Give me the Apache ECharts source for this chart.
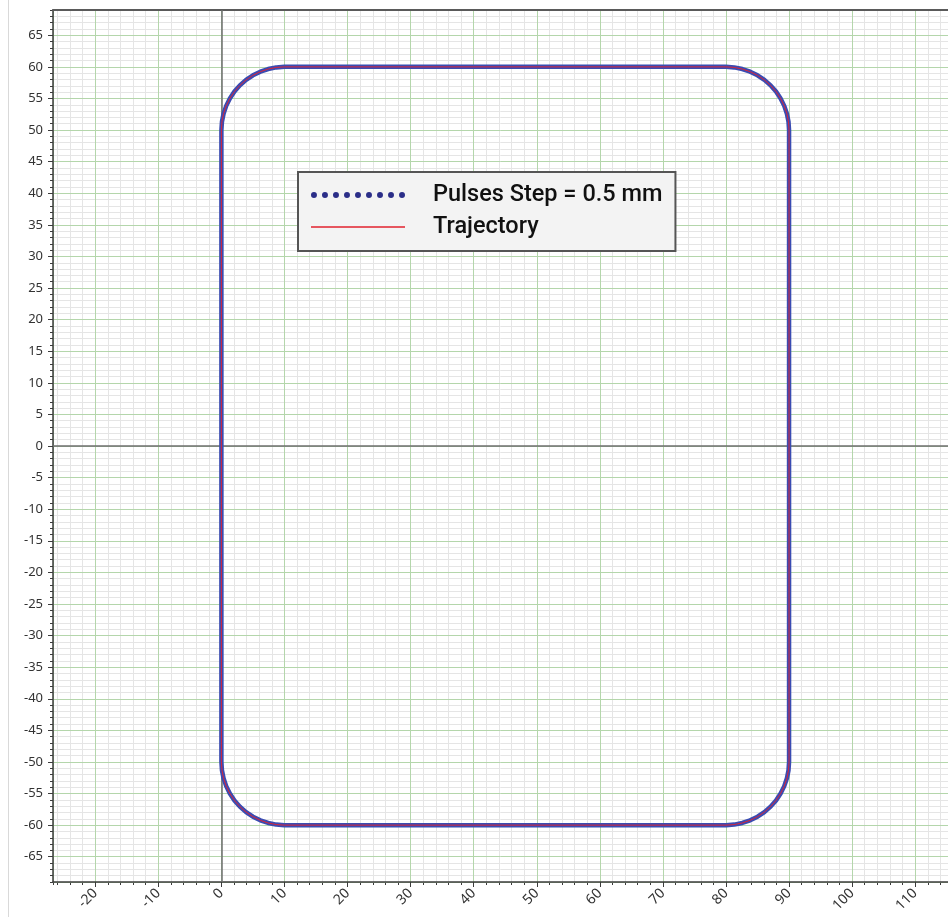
<!DOCTYPE html>
<html>
<head>
<meta charset="utf-8">
<script src="https://cdn.jsdelivr.net/npm/echarts@6/dist/echarts.min.js"></script>
<style>
  html, body { margin: 0; padding: 0; background: #ffffff; }
  #chart { position: absolute; left: 0; top: 0; width: 948px; height: 917px; }
  #edge { position: absolute; left: 8px; top: 0; width: 1px; height: 917px; background: #d9d9d9; }
</style>
</head>
<body>
<div id="chart"></div>
<div id="edge"></div>
<script>
// ---- data (mm) ----
// trajectory vertices: rounded rectangle 0..90 x -60..60, corner radius 10 (corner arcs sampled every 7.5 deg)
const trajX = [
  0, 0.086, 0.341, 0.761, 1.340, 2.066, 2.929, 3.912, 5, 6.173, 7.412, 8.695, 10,
  80, 81.305, 82.588, 83.827, 85, 86.088, 87.071, 87.934, 88.660, 89.239, 89.659, 89.914, 90,
  90, 89.914, 89.659, 89.239, 88.660, 87.934, 87.071, 86.088, 85, 83.827, 82.588, 81.305, 80,
  10, 8.695, 7.412, 6.173, 5, 3.912, 2.929, 2.066, 1.340, 0.761, 0.341, 0.086, 0,
  0
];
const trajY = [
  50, 51.305, 52.588, 53.827, 55, 56.088, 57.071, 57.934, 58.660, 59.239, 59.659, 59.914, 60,
  60, 59.914, 59.659, 59.239, 58.660, 57.934, 57.071, 56.088, 55, 53.827, 52.588, 51.305, 50,
  -50, -51.305, -52.588, -53.827, -55, -56.088, -57.071, -57.934, -58.660, -59.239, -59.659, -59.914, -60,
  -60, -59.914, -59.659, -59.239, -58.660, -57.934, -57.071, -56.088, -55, -53.827, -52.588, -51.305, -50,
  50
];
const seriesNames = ['Pulses Step = 0.5 mm', 'Trajectory'];
const xRange = [-26.7, 115.2];
const yRange = [-69, 69];
const xMajor = 10, xMinor = 2, yMajor = 5, yMinor = 1;

const path = trajX.map((x, i) => [x, trajY[i]]);

const labelFont = { fontFamily: 'Noto Sans', fontSize: 13, color: '#333333' };
const dotIcon = 'path://' + Array.from({length: 9}, (_, i) => {
  const cx = 3 + i * 11.1;
  return 'M' + (cx - 3) + ',3a3,3 0 1,0 6,0a3,3 0 1,0 -6,0Z';
}).join('');

const chart = echarts.init(document.getElementById('chart'), null, { renderer: 'canvas' });
chart.setOption({
  animation: false,
  backgroundColor: 'transparent',
  grid: { left: 53, top: 10, right: 0, bottom: 35, containLabel: false },
  xAxis: [
    { // minor (underneath)
      type: 'value', position: 'bottom', min: xRange[0], max: xRange[1],
      minInterval: xMinor, maxInterval: xMinor, splitNumber: 70, z: 1,
      axisLine: { show: false, onZero: false },
      axisTick: { show: true, inside: false, length: 3, lineStyle: { color: '#3c3c3c', width: 1 } },
      axisLabel: { show: false },
      splitLine: { show: true, lineStyle: { color: '#e5e5e5', width: 1 } }
    },
    { // major
      type: 'value', position: 'bottom', min: xRange[0], max: xRange[1],
      minInterval: xMajor, maxInterval: xMajor, splitNumber: 14, z: 3,
      axisLine: { show: true, onZero: false, lineStyle: { color: '#3c3c3c', width: 1.5 } },
      axisTick: { show: true, inside: false, length: 5, lineStyle: { color: '#3c3c3c', width: 1 } },
      axisLabel: Object.assign({ show: true, rotate: 45, margin: 9, showMinLabel: false, showMaxLabel: false }, labelFont, { fontSize: 14 }),
      splitLine: { show: true, lineStyle: { color: '#b4d6ab', width: 1 } }
    },
    { // top frame
      type: 'value', position: 'top', min: xRange[0], max: xRange[1], z: 3,
      axisLine: { show: true, onZero: false, lineStyle: { color: '#5a5a5a', width: 2 } },
      axisTick: { show: false }, axisLabel: { show: false }, splitLine: { show: false }
    }
  ],
  yAxis: [
    { // minor
      type: 'value', position: 'left', min: yRange[0], max: yRange[1],
      interval: yMinor, z: 1,
      axisLine: { show: false, onZero: false },
      axisTick: { show: true, inside: false, length: 3, lineStyle: { color: '#3c3c3c', width: 1 } },
      axisLabel: { show: false },
      splitLine: { show: true, lineStyle: { color: '#e5e5e5', width: 1 } }
    },
    { // major
      type: 'value', position: 'left', min: yRange[0], max: yRange[1],
      minInterval: yMajor, maxInterval: yMajor, splitNumber: 28, z: 3,
      axisLine: { show: true, onZero: false, lineStyle: { color: '#3c3c3c', width: 1.5 } },
      axisTick: { show: true, inside: false, length: 5, lineStyle: { color: '#3c3c3c', width: 1 } },
      axisLabel: Object.assign({ show: true, margin: 10, showMinLabel: false, showMaxLabel: false }, labelFont),
      splitLine: { show: true, lineStyle: { color: '#b4d6ab', width: 1 } }
    }
  ],
  legend: {
    left: 298, top: 172, orient: 'vertical', z: 10,
    backgroundColor: '#f3f3f3', borderColor: '#555555', borderWidth: 2, borderRadius: 0,
    padding: [9, 13, 10, 13], itemGap: 4, itemWidth: 94, itemHeight: 8,
    selectedMode: false,
    textStyle: { fontFamily: 'Roboto', fontWeight: 500, fontSize: 23.5, color: '#111111', lineHeight: 28, padding: [0, 0, 0, 23] },
    data: [
      { name: seriesNames[0], icon: dotIcon, itemStyle: { color: '#2b2e88', borderWidth: 0 } },
      { name: seriesNames[1], icon: 'path://M0,0H94V1.4H0Z', itemStyle: { color: '#e2222e', borderWidth: 0 } }
    ]
  },
  series: [
    {
      name: 'zero', type: 'line', data: [], xAxisIndex: 1, yAxisIndex: 1, z: 4, silent: true,
      markLine: {
        silent: true, symbol: 'none', label: { show: false },
        lineStyle: { color: '#6e6e6e', width: 1.5, type: 'solid' },
        data: [{ xAxis: 0 }, { yAxis: 0 }]
      }
    },
    {
      name: seriesNames[0], type: 'line', data: path, xAxisIndex: 1, yAxisIndex: 1, z: 5,
      showSymbol: false, smooth: false, silent: true,
      lineStyle: { color: '#3a4cb2', width: 4.5, cap: 'round', join: 'round' },
      itemStyle: { color: '#2b2e88' }
    },
    {
      name: seriesNames[1], type: 'line', data: path, xAxisIndex: 1, yAxisIndex: 1, z: 6,
      showSymbol: false, smooth: false, silent: true,
      lineStyle: { color: '#d9243a', width: 1, join: 'round' },
      itemStyle: { color: '#e0353c' }
    }
  ]
});
</script>
</body>
</html>
